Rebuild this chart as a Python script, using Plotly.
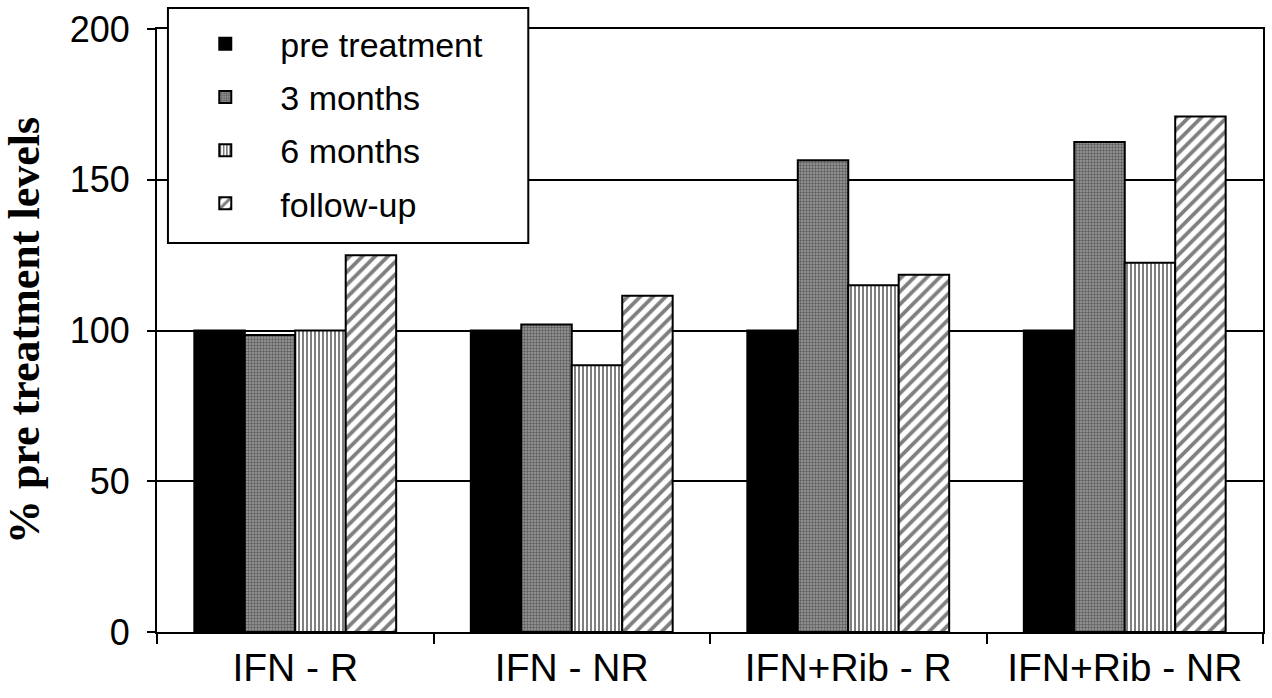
import plotly.graph_objects as go

categories = ["IFN - R", "IFN - NR", "IFN+Rib - R", "IFN+Rib - NR"]
series_names = ["pre treatment", "3 months", "6 months", "follow-up"]
pre_treatment = [100, 100, 100, 100]
three_months = [98.5, 102, 156.5, 162.5]
six_months = [100, 88.5, 115, 122.5]
follow_up = [125, 111.5, 118.5, 171]

values = [pre_treatment, three_months, six_months, follow_up]
styles = [
    dict(color="black", pattern=None),
    dict(color="#808080", pattern=dict(shape="+", size=3, solidity=0.35, fgcolor="#222222", bgcolor="#8e8e8e")),
    dict(color="white", pattern=dict(shape="|", size=4, solidity=0.5, fgcolor="black", bgcolor="white")),
    dict(color="white", pattern=dict(shape="/", size=9, solidity=0.42, fgcolor="black", bgcolor="white")),
]

fig = go.Figure()
for i, (name, vals, st) in enumerate(zip(series_names, values, styles)):
    marker = dict(color=st["color"], line=dict(color="black", width=2))
    if st["pattern"]:
        marker["pattern"] = st["pattern"]
    fig.add_trace(go.Bar(name=name, x=categories, y=vals, marker=marker, legendgroup=str(i)))

# legend frame (white box with black border) drawn above the plot, under the legend
fig.add_shape(type="rect", xref="paper", yref="paper",
              x0=0.0099, x1=0.3357, y0=0.645, y1=1.0348,
              fillcolor="white", line=dict(color="black", width=2), layer="above")

fig.update_layout(
    width=1272, height=698,
    margin=dict(l=157, r=7, t=29, b=66),
    paper_bgcolor="white", plot_bgcolor="white",
    barmode="group", bargap=0.27, bargroupgap=0,
    font=dict(family="Liberation Sans, Arial", color="black"),
    legend=dict(
        x=0.012, y=1.023, xanchor="left", yanchor="top",
        bgcolor="rgba(0,0,0,0)", borderwidth=0,
        font=dict(size=34, family="Liberation Sans, Arial"),
        tracegroupgap=6, itemwidth=100,
    ),
    showlegend=True,
)
fig.update_yaxes(
    range=[0, 200], tickvals=[0, 50, 100, 150, 200],
    showgrid=True, gridcolor="black", gridwidth=2,
    showline=True, linecolor="black", linewidth=2, mirror=True,
    ticks="outside", ticklen=8, tickwidth=2, tickcolor="black",
    ticklabelstandoff=10,
    tickfont=dict(size=36, family="Liberation Sans, Arial"),
    title=dict(text="<b>% pre treatment levels</b>", font=dict(size=44, family="Liberation Serif, Times New Roman"), standoff=16),
    zeroline=False,
)
fig.update_xaxes(
    showline=True, linecolor="black", linewidth=2, mirror=True,
    ticks="outside", tickson="boundaries", ticklen=10, tickwidth=2, tickcolor="black",
    tickfont=dict(size=39, family="Liberation Sans, Arial"),
)

fig.write_html("out.html")
